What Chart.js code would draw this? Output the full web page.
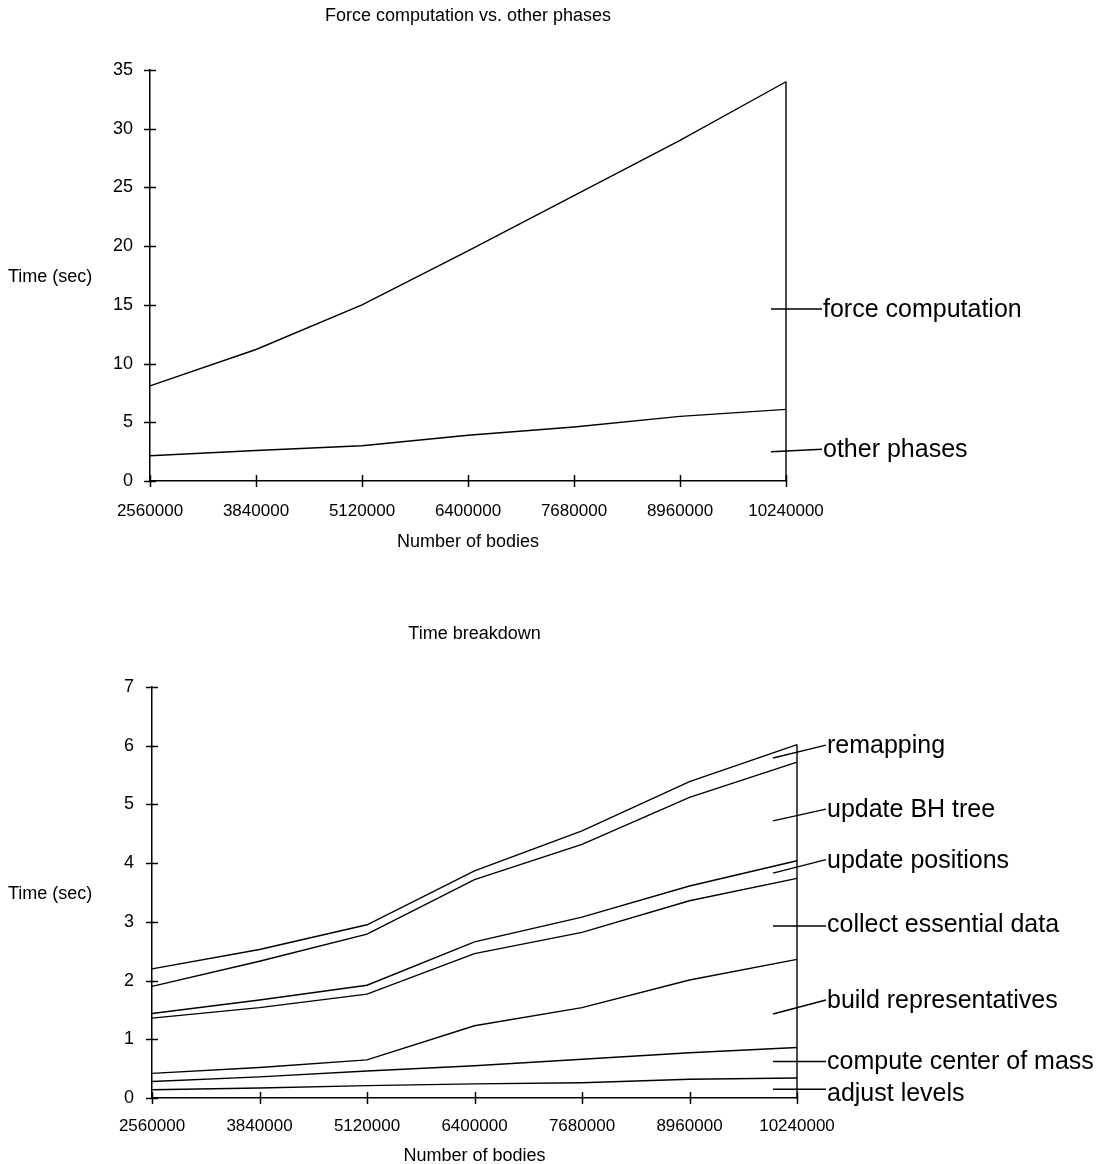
<!DOCTYPE html>
<html><head><meta charset="utf-8">
<script src="https://cdn.jsdelivr.net/npm/chart.js@4.4.1/dist/chart.umd.min.js"></script>
<style>
html,body{margin:0;padding:0;background:#fff;}
canvas{display:block;}
</style></head><body>
<canvas id="c1" width="1097" height="580"></canvas>
<canvas id="c2" width="1097" height="584"></canvas>
<script>
// ---- data ----
const categories = ['2560000','3840000','5120000','6400000','7680000','8960000','10240000'];

// top chart: stacked series (bottom first)
const otherPhases      = [2.15, 2.6, 3.0, 3.9, 4.6, 5.5, 6.1];
const forceComputation = [5.95, 8.6, 12.0, 15.7, 19.7, 23.5, 27.9];
const topSeriesNames   = ['other phases', 'force computation'];

// bottom chart: stacked series (bottom first)
const adjustLevels         = [0.14, 0.17, 0.21, 0.24, 0.26, 0.32, 0.34];
const computeCenterOfMass  = [0.14, 0.19, 0.25, 0.31, 0.40, 0.45, 0.52];
const buildRepresentatives = [0.14, 0.16, 0.19, 0.68, 0.88, 1.24, 1.50];
const collectEssentialData = [0.94, 1.02, 1.12, 1.23, 1.28, 1.35, 1.38];
const updatePositions      = [0.08, 0.13, 0.15, 0.20, 0.26, 0.25, 0.30];
const updateBHTree         = [0.46, 0.66, 0.87, 1.06, 1.24, 1.51, 1.68];
const remapping            = [0.30, 0.20, 0.16, 0.15, 0.23, 0.27, 0.30];
const bottomSeriesNames = ['adjust levels','compute center of mass','build representatives',
  'collect essential data','update positions','update BH tree','remapping'];

const FONT = '"Liberation Sans", Arial, Helvetica, sans-serif';

// leader annotations: y values in data units (start inside band, end at label)
const topLeaders = [
  {name:'force computation', y0:14.65, y1:14.65, dy:0},
  {name:'other phases', y0:2.5, y1:2.7, dy:0}
];
const bottomLeaders = [
  {name:'remapping', y0:5.79, y1:6.01, dy:0},
  {name:'update BH tree', y0:4.72, y1:4.92, dy:0},
  {name:'update positions', y0:3.83, y1:4.06, dy:0},
  {name:'collect essential data', y0:2.93, y1:2.93, dy:-2},
  {name:'build representatives', y0:1.43, y1:1.67, dy:0},
  {name:'compute center of mass', y0:0.62, y1:0.62, dy:0},
  {name:'adjust levels', y0:0.15, y1:0.15, dy:4}
];

function decorPlugin(cfg){
  return {
    id:'decor',
    afterDraw(chart){
      const ctx = chart.ctx, xs = chart.scales.x, ys = chart.scales.y, ca = chart.chartArea;
      ctx.save();
      ctx.strokeStyle = '#000'; ctx.lineWidth = 1.5; ctx.lineCap = 'butt';
      // crossing tick marks
      ys.ticks.forEach((t,i)=>{
        const y = Math.round(ys.getPixelForTick(i)) + 0.5;
        ctx.beginPath(); ctx.moveTo(ca.left-6,y); ctx.lineTo(ca.left+6,y); ctx.stroke();
      });
      xs.ticks.forEach((t,i)=>{
        const x = Math.round(xs.getPixelForTick(i)) + 0.5;
        ctx.beginPath(); ctx.moveTo(x,ca.bottom-6); ctx.lineTo(x,ca.bottom+6); ctx.stroke();
      });
      // right edge vertical line up to stacked total
      const lastMeta = chart.getDatasetMeta(chart.data.datasets.length-1);
      const lastPt = lastMeta.data[lastMeta.data.length-1];
      ctx.lineWidth = 1.4;
      ctx.beginPath(); ctx.moveTo(lastPt.x, ys.getPixelForValue(0)); ctx.lineTo(lastPt.x, lastPt.y); ctx.stroke();
      // texts
      ctx.fillStyle = '#000';
      ctx.textBaseline = 'middle';
      ctx.font = '18px ' + FONT;
      ctx.textAlign = 'center';
      const cx = (ca.left + ca.right)/2;
      ctx.fillText(cfg.title, cx, cfg.titleY);
      ctx.fillText('Number of bodies', cx, cfg.xTitleY);
      ctx.textAlign = 'left';
      ctx.fillText('Time (sec)', 8, (ca.top+ca.bottom)/2 + 2);
      // series labels with leaders
      ctx.font = '25px ' + FONT;
      ctx.lineWidth = 1.5;
      cfg.leaders.forEach(l=>{
        const ya = ys.getPixelForValue(l.y0), yb = ys.getPixelForValue(l.y1);
        const xa = ca.right + cfg.leadStart, xb = ca.right + cfg.leadEnd;
        ctx.beginPath(); ctx.moveTo(xa,ya); ctx.lineTo(xb,yb); ctx.stroke();
        ctx.fillText(l.name, xb + 1, yb + 1 + l.dy);
      });
      ctx.restore();
    }
  };
}

function makeChart(id, series, names, yMax, step, lay, cfg){
  const datasets = series.map((s,i)=>({
    label:names[i], data:s, borderColor:'#000', borderWidth:1.4,
    pointRadius:0, fill:false, tension:0
  }));
  return new Chart(document.getElementById(id), {
    type:'line',
    data:{labels:categories, datasets},
    options:{
      responsive:false, animation:false, devicePixelRatio:1,
      layout:{padding:{left:0, right:lay.right, top:lay.top, bottom:0}},
      plugins:{legend:{display:false}, title:{display:false}, tooltip:{enabled:false}},
      scales:{
        x:{type:'category', offset:false,
           grid:{display:false, drawTicks:false},
           border:{display:true, color:'#000', width:1.5},
           ticks:{color:'#000', font:{family:FONT, size:17}, padding:lay.xPad, maxRotation:0, autoSkip:false},
           afterFit:s=>{s.height = lay.xH;}},
        y:{stacked:true, min:0, max:yMax,
           grid:{display:false, drawTicks:false},
           border:{display:true, color:'#000', width:1.5},
           ticks:{stepSize:step, color:'#000', font:{family:FONT, size:18}, padding:lay.yPad},
           afterFit:s=>{s.width = lay.yW;}}
      }
    },
    plugins:[decorPlugin(cfg)]
  });
}

makeChart('c1', [otherPhases, forceComputation], topSeriesNames, 35, 5,
  {right:311, top:70, xPad:20, xH:99, yPad:17, yW:150},
  {title:'Force computation vs. other phases', titleY:16, xTitleY:542, leaders:topLeaders, leadStart:-15, leadEnd:36});

makeChart('c2', [adjustLevels, computeCenterOfMass, buildRepresentatives, collectEssentialData,
                 updatePositions, updateBHTree, remapping], bottomSeriesNames, 7, 1,
  {right:300, top:107, xPad:18, xH:66, yPad:18, yW:152},
  {title:'Time breakdown', titleY:54, xTitleY:576, leaders:bottomLeaders, leadStart:-24, leadEnd:29});
</script>
</body></html>
